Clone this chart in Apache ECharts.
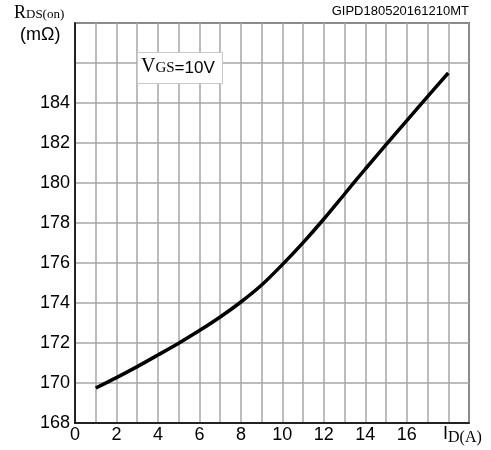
<!DOCTYPE html>
<html>
<head>
<meta charset="utf-8">
<script src="https://cdn.jsdelivr.net/npm/echarts@6/dist/echarts.min.js"></script>
<style>
  html, body { margin: 0; padding: 0; background: #fff; }
  #chart { width: 491px; height: 450px; }
</style>
</head>
<body>
<div id="chart"></div>
<script>
// Drain current I_D (A) and on-resistance R_DS(on) (mΩ) at V_GS = 10 V
const currentA = [1, 2, 3, 4, 5, 6, 7, 8, 9, 10, 11, 12, 13, 14, 15, 16, 17, 18];
const rdsOn = [169.75, 170.27, 170.82, 171.4, 171.99, 172.62, 173.3, 174.05, 174.9,
               175.92, 177.02, 178.2, 179.45, 180.7, 181.92, 183.12, 184.32, 185.5];
const xTickLabels = [0, 2, 4, 6, 8, 10, 12, 14, 16];
const yTickLabels = [168, 170, 172, 174, 176, 178, 180, 182, 184];

const chart = echarts.init(document.getElementById('chart'), null, { renderer: 'canvas' });

const sans = 'Arial, "Liberation Sans", sans-serif';
const serif = '"Times New Roman", "Liberation Serif", serif';
const gridLine = { show: true, lineStyle: { color: '#a6a6a6', width: 1.5 } };

chart.setOption({
  animation: false,
  backgroundColor: '#ffffff',
  grid: {
    left: 75, top: 23, width: 394, height: 400,
    show: true, borderColor: '#000', borderWidth: 1.5, backgroundColor: 'transparent'
  },
  xAxis: {
    type: 'value', min: 0, max: 19, interval: 1,
    axisLine: { show: true, lineStyle: { color: '#000', width: 1.5 } },
    axisTick: { show: false },
    splitLine: gridLine,
    axisLabel: {
      margin: 3, color: '#000', fontFamily: sans, fontSize: 18,
      formatter: v => (xTickLabels.includes(v) ? String(v) : '')
    }
  },
  yAxis: {
    type: 'value', min: 168, max: 188, interval: 2,
    axisLine: { show: true, lineStyle: { color: '#000', width: 1.5 } },
    axisTick: { show: false },
    splitLine: gridLine,
    axisLabel: {
      margin: 5, color: '#000', fontFamily: sans, fontSize: 18,
      formatter: v => (yTickLabels.includes(v) ? String(v) : '')
    }
  },
  series: [{
    type: 'line',
    data: currentA.map((x, i) => [x, rdsOn[i]]),
    smooth: 0.3,
    showSymbol: false,
    lineStyle: { color: '#000', width: 3.5 },
    z: 5
  }],
  graphic: [
    {
      type: 'text', left: 14, top: 4,
      style: {
        text: '{r|R}{s|DS(on)}',
        rich: {
          r: { fontFamily: serif, fontSize: 18, fill: '#000' },
          s: { fontFamily: serif, fontSize: 13, fill: '#000', padding: [4, 0, 0, 0] }
        }
      }
    },
    {
      type: 'text', left: 20, top: 26,
      style: { text: '(mΩ)', fontFamily: sans, fontSize: 18, fill: '#000' }
    },
    {
      type: 'text', right: 22, top: 5,
      style: { text: 'GIPD180520161210MT', fontFamily: sans, fontSize: 13, fill: '#000' }
    },
    {
      type: 'rect', shape: { x: 137.5, y: 52.5, width: 85, height: 31 },
      style: { fill: '#fff', stroke: '#c8c8c8', lineWidth: 1 }, z: 10
    },
    {
      type: 'text', left: 141, top: 57, z: 11,
      style: {
        text: '{v|V}{g|GS}{e|=10V}',
        rich: {
          v: { fontFamily: serif, fontSize: 20, fill: '#000' },
          g: { fontFamily: serif, fontSize: 15, fill: '#000', padding: [3, 0, 0, 0] },
          e: { fontFamily: sans, fontSize: 17, fill: '#000', padding: [2, 0, 0, 0] }
        }
      }
    },
    {
      type: 'text', left: 443, top: 425,
      style: {
        text: '{i|I}{d|D(A)}',
        rich: {
          i: { fontFamily: sans, fontSize: 18, fill: '#000' },
          d: { fontFamily: serif, fontSize: 16, fill: '#000', padding: [8, 0, 0, 0] }
        }
      }
    }
  ]
});
</script>
</body>
</html>
